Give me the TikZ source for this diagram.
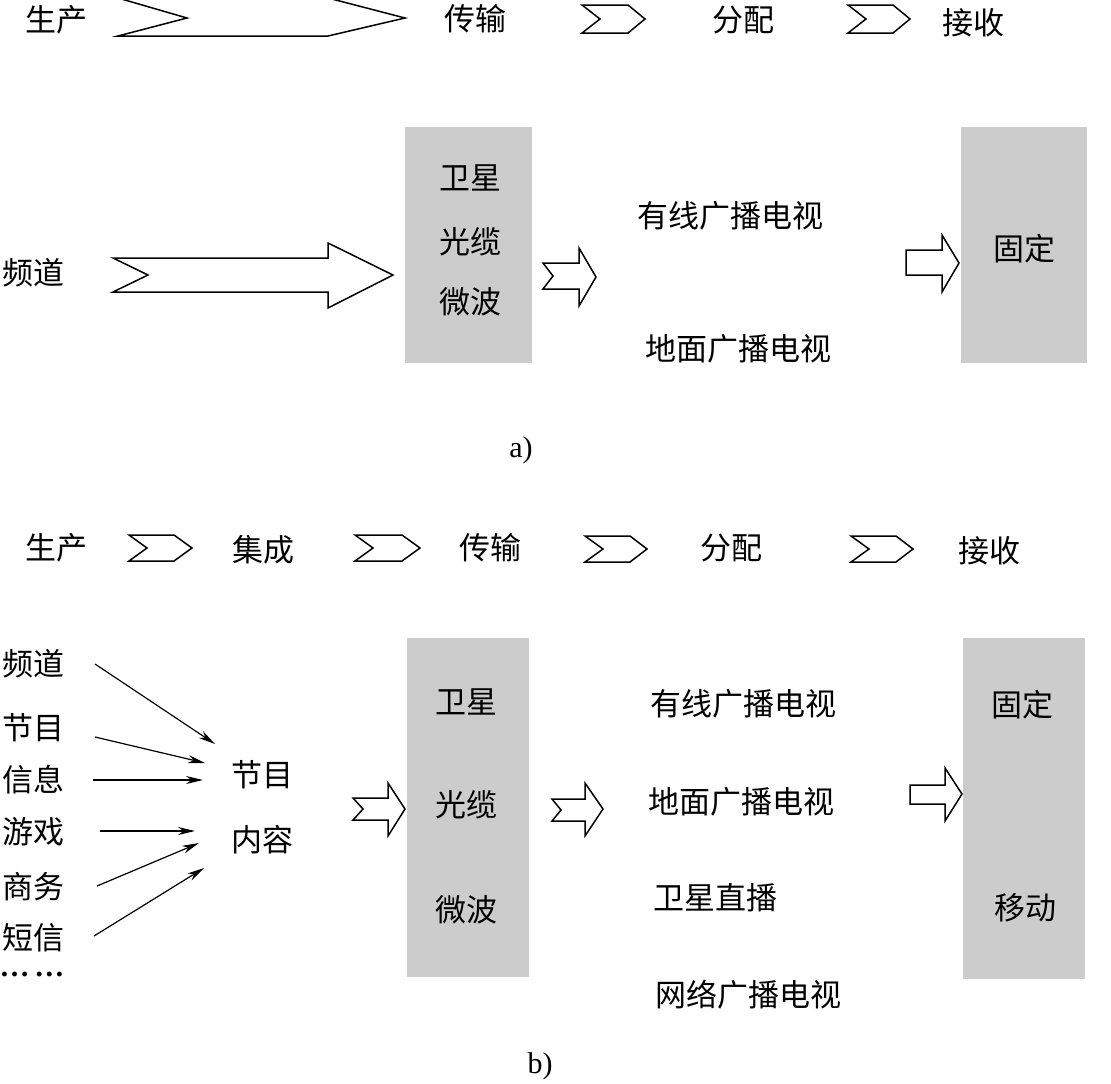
\documentclass[tikz,border=0pt]{standalone}
\usepackage{fontspec}
\setmainfont{Liberation Serif}
\newfontfamily\cjk{Noto Sans CJK SC}
\usetikzlibrary{arrows.meta}
\definecolor{boxgray}{RGB}{204,204,204}
\begin{document}
\begin{tikzpicture}[x=1pt,y=-1pt,
  lbl/.style={font=\cjk\fontsize{31}{36}\selectfont, inner sep=0pt, anchor=center},
  captxt/.style={font=\fontsize{30}{34}\selectfont, inner sep=0pt, anchor=center},
  gbox/.style={fill=boxgray, draw=none, inner sep=0pt},
  shp/.style={draw=black, line width=1.5pt, fill=white, line join=miter},
  con/.style={draw=black, line width=1.2pt, -{Stealth[length=17pt,width=8pt]}}]
\useasboundingbox (0,0) rectangle (1111,1084);

% ---------------- part a ----------------
% header
\node[lbl] (aP) at (56,20) {生产};
\node[lbl] (aT) at (475,19) {传输};
\node[lbl] (aD) at (743,20) {分配};
\node[lbl] (aR) at (973,23) {接收};
\draw[shp] (118,-2) -- (328,-2) -- (405,18) -- (328,36) -- (118,36) -- (187,18) -- cycle;
\draw[shp] (582,5) -- (628,5) -- (645,19) -- (628,33) -- (582,33) -- (600,19) -- cycle;
\draw[shp] (848,5) -- (893,5) -- (910,19) -- (893,33) -- (848,33) -- (866,19) -- cycle;

% body
\node[lbl] (aCh) at (33,273) {频道};
\draw[shp] (113,258) -- (328,258) -- (328,243) -- (393,275) -- (328,308) -- (328,292) -- (113,292) -- (148,275) -- cycle;
\node[gbox, minimum width=127pt, minimum height=236pt] (aBox1) at (468.5,245) {};
\node[lbl] (aSat) at (470,178) {卫星};
\node[lbl] (aCab) at (470,242) {光缆};
\node[lbl] (aMic) at (470,302) {微波};
\draw[shp] (543,263) -- (579,263) -- (579,248) -- (596,277) -- (579,306) -- (579,289) -- (543,289) -- (553,276) -- cycle;
\node[lbl] (aCATV) at (730,216) {有线广播电视};
\node[lbl] (aTer) at (738,349) {地面广播电视};
\draw[shp] (906,250) -- (942,250) -- (942,235) -- (959,263) -- (942,292) -- (942,275) -- (906,275) -- cycle;
\node[gbox, minimum width=126pt, minimum height=236pt] (aBox2) at (1024,245) {};
\node[lbl] (aFix) at (1024,249) {固定};
\node[captxt] (aCap) at (521,450) {a)};

% ---------------- part b ----------------
\node[lbl] (bP) at (56,548) {生产};
\node[lbl] (bI) at (263,550) {集成};
\node[lbl] (bT) at (490,548) {传输};
\node[lbl] (bD) at (731,548) {分配};
\node[lbl] (bR) at (989,551) {接收};
\draw[shp] (129,535) -- (174,535) -- (192,548) -- (174,561) -- (129,561) -- (147,548) -- cycle;
\draw[shp] (355,535) -- (402,535) -- (420,548) -- (402,561) -- (355,561) -- (373,548) -- cycle;
\draw[shp] (585,536) -- (630,536) -- (647,549) -- (630,562) -- (585,562) -- (603,549) -- cycle;
\draw[shp] (851,536) -- (896,536) -- (913,549) -- (896,562) -- (851,562) -- (869,549) -- cycle;

% sources
\node[lbl] (s1) at (33,664) {频道};
\node[lbl] (s2) at (33,728) {节目};
\node[lbl] (s3) at (33,780) {信息};
\node[lbl] (s4) at (33,832) {游戏};
\node[lbl] (s5) at (33,887) {商务};
\node[lbl] (s6) at (33,938) {短信};
\node[captxt, anchor=base, text height=4pt, text depth=0pt] (s7) at (32,976) {\textbf{\ldots\,\ldots}};
\node[lbl] (pg1) at (262,775) {节目};
\node[lbl] (pg2) at (262,840) {内容};
\coordinate (a1) at (95,664);  \coordinate (e1) at (215,744);
\coordinate (a2) at (95,737);  \coordinate (e2) at (205,763);
\coordinate (a3) at (93,780);  \coordinate (e3) at (203,780);
\coordinate (a4) at (100,831); \coordinate (e4) at (195,831);
\coordinate (a5) at (97,886);  \coordinate (e5) at (199,843);
\coordinate (a6) at (94,936);  \coordinate (e6) at (204,868);
\draw[con] (a1) -- (e1);
\draw[con] (a2) -- (e2);
\draw[con] (a3) -- (e3);
\draw[con] (a4) -- (e4);
\draw[con] (a5) -- (e5);
\draw[con] (a6) -- (e6);

\draw[shp] (353,798) -- (388,798) -- (388,783) -- (405,809) -- (388,836) -- (388,820) -- (353,820) -- (363,809) -- cycle;
\node[gbox, minimum width=122pt, minimum height=339pt] (bBox1) at (468,807.5) {};
\node[lbl] (bSat) at (466,702) {卫星};
\node[lbl] (bCab) at (466,805) {光缆};
\node[lbl] (bMic) at (466,910) {微波};
\draw[shp] (552,799) -- (585,799) -- (585,783) -- (603,809) -- (585,836) -- (585,821) -- (552,821) -- (561,810) -- cycle;
\node[lbl] (bCATV) at (743,704) {有线广播电视};
\node[lbl] (bTer) at (741,802) {地面广播电视};
\node[lbl] (bDBS) at (715,898) {卫星直播};
\node[lbl] (bNet) at (748,995) {网络广播电视};
\draw[shp] (910,785) -- (945,785) -- (945,768) -- (962,794) -- (945,821) -- (945,804) -- (910,804) -- cycle;
\node[gbox, minimum width=122pt, minimum height=341pt] (bBox2) at (1024,808.5) {};
\node[lbl] (bFix) at (1022,705) {固定};
\node[lbl] (bMob) at (1025,908) {移动};
\node[captxt] (bCap) at (540,1066) {b)};
\end{tikzpicture}
\end{document}
